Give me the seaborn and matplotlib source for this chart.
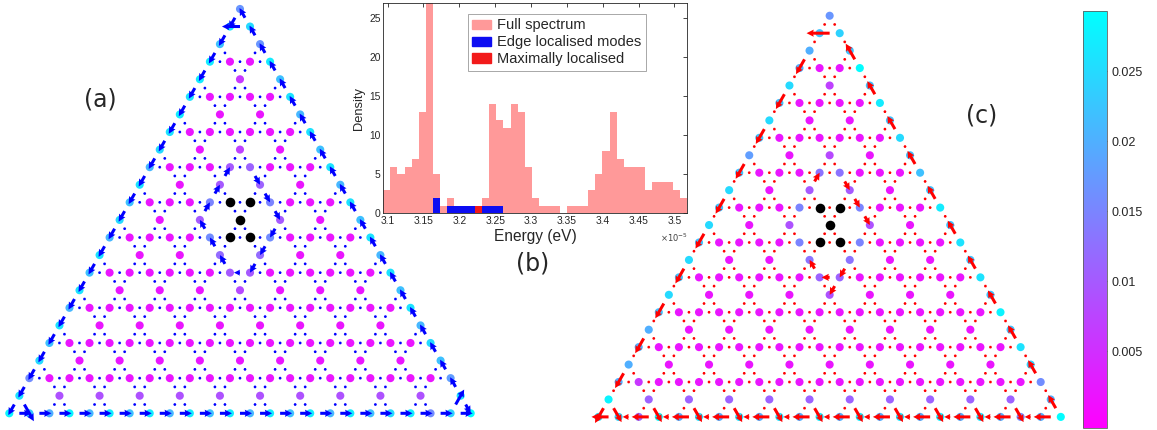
import numpy as np
import matplotlib
matplotlib.use("Agg")
import matplotlib.pyplot as plt
from matplotlib.patches import Patch
import seaborn as sns
import pandas as pd

sns.set_theme(style="white")
plt.rcParams['font.family'] = ['DejaVu Sans']

# ---------------- (b) histogram data (counts per bin, energy in 1e-5 eV) ----------------
BIN_START = 3.094
BIN_WIDTH = 0.00986
FULL_COUNTS = [3, 6, 5, 6, 7, 13, 30, 5, 1, 2, 1, 1, 1, 1, 2, 14, 12, 11, 14, 13, 6, 2,
               1, 1, 1, 0, 1, 1, 1, 3, 5, 8, 13, 7, 6, 6, 6, 3, 4, 4, 4, 3, 2]
EDGE_COUNTS = [0, 0, 0, 0, 0, 0, 0, 2, 0, 1, 1, 1, 1, 0, 1, 1, 1, 0, 0, 0, 0, 0,
               0, 0, 0, 0, 0, 0, 0, 0, 0, 0, 0, 0, 0, 0, 0, 0, 0, 0, 0, 0, 0]
MAX_COUNTS = [0, 0, 0, 0, 0, 0, 0, 0, 0, 0, 0, 0, 0, 1, 0, 0, 0, 0, 0, 0, 0, 0,
              0, 0, 0, 0, 0, 0, 0, 0, 0, 0, 0, 0, 0, 0, 0, 0, 0, 0, 0, 0, 0]
HIST_LABELS = ["Full spectrum", "Edge localised modes", "Maximally localised"]
X_TICKS = [3.1, 3.15, 3.2, 3.25, 3.3, 3.35, 3.4, 3.45, 3.5]
Y_TICKS = [0, 5, 10, 15, 20, 25]

# ---------------- (a)/(c) lattice field data ----------------
N_SIDE = 23
RING_SITES = [(4, 14), (5, 14), (6, 13), (7, 12), (8, 11), (8, 10), (8, 9), (8, 8),
              (7, 8), (6, 9), (5, 10), (4, 11), (4, 12), (4, 13)]
BLACK_SITES = [(5, 12), (6, 12), (6, 11), (6, 10), (7, 10)]

# site magnitudes: bottom edge (m=0..23), left edge (n=1..23), right edge (n=1..22)
A_BOTTOM = [0.028, 0.023, 0.020, 0.028, 0.021, 0.027, 0.022, 0.027, 0.021, 0.027, 0.022, 0.027,
            0.021, 0.027, 0.022, 0.027, 0.021, 0.027, 0.022, 0.025, 0.027, 0.016, 0.024, 0.029]
A_LEFT = [0.026, 0.016, 0.025, 0.022, 0.026, 0.021, 0.026, 0.022, 0.026, 0.021, 0.025, 0.022,
          0.026, 0.021, 0.025, 0.026, 0.027, 0.026, 0.027, 0.027, 0.022, 0.027, 0.017]
A_RIGHT = [0.026, 0.018, 0.022, 0.025, 0.021, 0.026, 0.022, 0.026, 0.021, 0.026, 0.022, 0.026,
           0.021, 0.026, 0.022, 0.026, 0.021, 0.026, 0.022, 0.027, 0.017, 0.025]
A_ROW1 = 0.009
A_BULK = 0.002
A_RING = [0.010, 0.011, 0.011, 0.015, 0.010, 0.016, 0.012, 0.010, 0.010, 0.012, 0.016, 0.010, 0.015, 0.010]
A_EXTRA = {(2, 19): 0.006, (4, 15): 0.007, (8, 7): 0.008}

C_BOTTOM = [0.027, 0.025, 0.012, 0.029, 0.020, 0.026, 0.020, 0.026, 0.020, 0.026, 0.020, 0.027,
            0.020, 0.027, 0.020, 0.026, 0.020, 0.027, 0.020, 0.026, 0.020, 0.016, 0.020, 0.029]
C_LEFT = [0.028, 0.020, 0.020, 0.020, 0.020, 0.022, 0.025, 0.022, 0.025, 0.022, 0.025, 0.022,
          0.025, 0.022, 0.018, 0.022, 0.025, 0.022, 0.025, 0.020, 0.020, 0.022, 0.017]
C_RIGHT = [0.020, 0.016, 0.024, 0.026, 0.022, 0.028, 0.022, 0.026, 0.022, 0.026, 0.022, 0.027,
           0.022, 0.022, 0.022, 0.025, 0.022, 0.027, 0.022, 0.029, 0.022, 0.024]
C_ROW1 = 0.011
C_BULK = 0.002
C_RING = [0.013, 0.013, 0.010, 0.015, 0.009, 0.015, 0.013, 0.011, 0.011, 0.013, 0.015, 0.009, 0.015, 0.010]
C_EXTRA = {(2, 19): 0.007, (4, 15): 0.008, (8, 7): 0.009, (1, 2): 0.006}

# arrow values on bonds (units of bond length; sign: toward larger m on the bottom edge,
# upward on the side edges, up-left on the (m+1,0)-(m,1) bonds, along ring order on the ring)
A_ARROW_BOTTOM = [0.6, 0.6, 0.6, 0.6, 0.6, 0.6, 0.6, 0.6, 0.6, 0.6, 0.6, 0.6,
                  0.6, 0.6, 0.6, 0.6, 0.6, 0.6, 0.6, 0.6, 0.6, 0.6, 0.6]
A_ARROW_LEFT = [-0.6, -0.6, -0.6, -0.6, -0.6, -0.6, -0.6, -0.6, -0.6, -0.6, -0.6, -0.6,
                -0.6, -0.6, -0.6, -0.6, -0.6, -0.6, -0.6, -0.6, -0.6, -0.6, -0.6]
A_ARROW_RIGHT = [-0.5, 0.55, 0.55, 0.55, 0.55, 0.55, 0.55, 0.55, 0.55, 0.55, 0.55, 0.55,
                 0.55, 0.55, 0.55, 0.55, 0.55, 0.55, 0.55, 0.55, 0.55, 0.55, 0.55]
A_ARROW_DIAG = [-0.95, 0.03, 0.03, 0.03, 0.03, 0.03, 0.03, 0.03, 0.03, 0.03, 0.03]
A_ARROW_RING = [0.05, 0.5, 0.5, 0.5, 0.5, 0.5, 0.5, 0.3, 0.5, 0.5, 0.5, 0.5, 0.5, 0.5]
A_ARROW_SPECIAL = {((22, 0), (22, 1)): 0.85, ((0, 22), (1, 22)): -0.9}

C_ARROW_BOTTOM = [-0.85, -0.3, -0.85, -0.3, -0.85, -0.3, -0.85, -0.3, -0.85, -0.3, -0.85, -0.3,
                  -0.85, -0.3, -0.85, -0.3, -0.85, -0.3, -0.85, -0.3, -0.85, -0.3, -0.85]
C_ARROW_LEFT = [-0.85, -0.06, -0.85, -0.06, -0.85, -0.06, -0.85, -0.06, -0.85, -0.06, -0.85, -0.06,
                -0.85, -0.06, -0.85, -0.06, -0.85, -0.06, -0.85, -0.06, -0.85, -0.06, -0.06]
C_ARROW_RIGHT = [0.75, 0.06, 0.75, 0.06, 0.75, 0.06, 0.75, 0.06, 0.75, 0.06, 0.75, 0.06,
                 0.75, 0.06, 0.75, 0.06, 0.75, 0.06, 0.75, 0.06, 0.9, 0.06, 0.06]
C_ARROW_DIAG = [-0.8, -0.8, -0.8, -0.8, -0.8, -0.8, -0.8, -0.8, -0.8, -0.8, -0.8]
C_ARROW_RING = [0.05, 0.5, 0.5, 0.5, 0.05, 0.05, 0.5, 0.4, 0.5, 0.05, 0.05, 0.05, 0.05, 0.5]
C_ARROW_SPECIAL = {((0, 22), (1, 22)): -1.15, ((8, 7), (8, 8)): -0.5}

BULK_ARROW = 0.02

CB_TICKS = [0.005, 0.01, 0.015, 0.02, 0.025]
V_MIN, V_MAX = -0.00045, 0.0293

W, H = 1157, 430
fig = plt.figure(figsize=(W / 100, H / 100), dpi=100)


def px_axes(left, top, right, bottom):
    return fig.add_axes([left / W, 1 - bottom / H, (right - left) / W, (bottom - top) / H])


SQ3 = np.sqrt(3) / 2


def lattice():
    sites = [(m, n) for n in range(N_SIDE + 1) for m in range(N_SIDE + 1 - n)
             if not (m % 2 == 1 and n % 2 == 1)]
    sset = set(sites)
    bonds = []
    for (m, n) in sites:
        for dm, dn in [(1, 0), (0, 1), (-1, 1)]:
            if (m + dm, n + dn) in sset:
                bonds.append(((m, n), (m + dm, n + dn)))
    return sites, bonds


def xy(s):
    return s[0] + s[1] / 2.0, s[1] * SQ3


def site_value(s, P):
    m, n = s
    if n == 0:
        return P["bottom"][m]
    if m == 0:
        return P["left"][n - 1]
    if m + n == N_SIDE:
        return P["right"][n - 1]
    if s in RING_SITES:
        return P["ring"][RING_SITES.index(s)]
    if s in P["extra"]:
        return P["extra"][s]
    if n == 1:
        return P["row1"]
    return P["bulk"]


def bond_length(b, P):
    s1, s2 = b
    (m1, n1), (m2, n2) = b
    if b in P["a_special"]:
        return P["a_special"][b]
    if n1 == 0 and n2 == 0:
        return P["a_bottom"][m1]
    if m1 == 0 and m2 == 0:
        return P["a_left"][n1]
    if m1 + n1 == N_SIDE and m2 + n2 == N_SIDE:
        return P["a_right"][n1]
    if n1 == 0 and n2 == 1 and m2 == m1 - 1 and m2 % 2 == 0:
        return P["a_diag"][m2 // 2]
    if s1 in RING_SITES and s2 in RING_SITES:
        k = len(RING_SITES)
        for i in range(k):
            if RING_SITES[i] == s1 and RING_SITES[(i + 1) % k] == s2:
                return P["a_ring"][i]
            if RING_SITES[i] == s2 and RING_SITES[(i + 1) % k] == s1:
                return -P["a_ring"][i]
    return BULK_ARROW


def draw_panel(ax, P, acolor):
    sites, bonds = lattice()
    rows = []
    for s in sites:
        x, y = xy(s)
        rows.append({"x": x, "y": y, "v": site_value(s, P), "black": s in BLACK_SITES})
    df = pd.DataFrame(rows)
    sns.scatterplot(data=df[~df.black], x="x", y="y", hue="v", palette="cool_r",
                    hue_norm=(V_MIN, V_MAX), s=34, linewidth=0, legend=False, ax=ax, zorder=2)
    sns.scatterplot(data=df[df.black], x="x", y="y", color="black", s=48, linewidth=0,
                    legend=False, ax=ax, zorder=2)
    big, small = [], []
    for b in bonds:
        x1, y1 = xy(b[0])
        x2, y2 = xy(b[1])
        L = bond_length(b, P)
        rec = ((x1 + x2) / 2, (y1 + y2) / 2, (x2 - x1) * L, (y2 - y1) * L)
        (big if abs(L) >= 0.2 else small).append(rec)
    bq = np.array(big)
    sq = np.array(small)
    ax.quiver(sq[:, 0], sq[:, 1], sq[:, 2], sq[:, 3], angles="xy", scale_units="xy", scale=1,
              units="xy", width=0.1, minlength=1.5, color=acolor, zorder=3)
    ax.quiver(bq[:, 0], bq[:, 1], bq[:, 2], bq[:, 3], angles="xy", scale_units="xy", scale=1,
              units="xy", width=0.15, headwidth=2.4, headlength=2.4, headaxislength=2.2,
              minlength=0.5, color=acolor, zorder=3)
    ax.set_axis_off()


def tri_axes(x0, y0, sx, sy):
    xl, yl = (-1.2, 24.2), (-1.2, 21.0)
    ax = px_axes(x0 + sx * xl[0], y0 - sy * yl[1], x0 + sx * xl[1], y0 - sy * yl[0])
    ax.set_xlim(*xl)
    ax.set_ylim(*yl)
    return ax


PANEL_A = dict(bottom=A_BOTTOM, left=A_LEFT, right=A_RIGHT, row1=A_ROW1, bulk=A_BULK,
               ring=A_RING, extra=A_EXTRA, a_bottom=A_ARROW_BOTTOM, a_left=A_ARROW_LEFT,
               a_right=A_ARROW_RIGHT, a_diag=A_ARROW_DIAG, a_ring=A_ARROW_RING,
               a_special=A_ARROW_SPECIAL)
PANEL_C = dict(bottom=C_BOTTOM, left=C_LEFT, right=C_RIGHT, row1=C_ROW1, bulk=C_BULK,
               ring=C_RING, extra=C_EXTRA, a_bottom=C_ARROW_BOTTOM, a_left=C_ARROW_LEFT,
               a_right=C_ARROW_RIGHT, a_diag=C_ARROW_DIAG, a_ring=C_ARROW_RING,
               a_special=C_ARROW_SPECIAL)

axa = tri_axes(9.3, 413.3, 20.06, 20.30)
draw_panel(axa, PANEL_A, "#0000ff")
axc = tri_axes(598.5, 416.9, 20.1, 20.14)
draw_panel(axc, PANEL_C, "#ff0000")

fig.text(100 / W, 1 - 99 / H, "(a)", fontsize=17, ha="center", va="center")
fig.text(533 / W, 1 - 263 / H, "(b)", fontsize=17, ha="center", va="center")
fig.text(982 / W, 1 - 115 / H, "(c)", fontsize=17, ha="center", va="center")

# ---------------- histogram (b) ----------------
axh = px_axes(383.3, 2.7, 687.3, 213.3)
edges = [float(e) for e in BIN_START + BIN_WIDTH * np.arange(len(FULL_COUNTS) + 1)]
centers = [(edges[i] + edges[i + 1]) / 2 for i in range(len(FULL_COUNTS))]
hist_df = pd.DataFrame({"energy": centers, "full": FULL_COUNTS, "edge": EDGE_COUNTS,
                        "maxloc": MAX_COUNTS})
HIST_COLORS = [(1.0, 0.6, 0.6), (0.05, 0.05, 0.95), (0.95, 0.1, 0.1)]
for col_name, colr in zip(["full", "edge", "maxloc"], HIST_COLORS):
    sns.histplot(data=hist_df, x="energy", weights=col_name, bins=edges, color=colr, alpha=1,
                 edgecolor="none", linewidth=0, ax=axh)
axh.set_xlim(edges[0], edges[-1])
axh.set_ylim(0, 27)
axh.set_xticks(X_TICKS)
axh.set_xticklabels([f"{t:g}" for t in X_TICKS])
axh.set_yticks(Y_TICKS)
hfont = ['Liberation Sans', 'DejaVu Sans']
for lab in axh.get_xticklabels() + axh.get_yticklabels():
    lab.set_family(hfont)
    lab.set_fontsize(7.4)
axh.tick_params(direction="in", top=True, right=True, length=3, width=0.6, pad=2,
                colors="#262626")
axh.set_xlabel("Energy (eV)", fontsize=11.2, family=hfont, labelpad=2)
axh.set_ylabel("Density", fontsize=9.3, family=hfont, labelpad=3)
for sp in axh.spines.values():
    sp.set_color("#262626")
    sp.set_linewidth(0.6)
axh.text(0.955, -0.115, r"$\times10^{-5}$", transform=axh.transAxes, fontsize=6,
         ha="center", va="center", color="#404040")
handles = [Patch(color=c) for c in HIST_COLORS]
leg = axh.legend(handles, HIST_LABELS, loc="upper left", bbox_to_anchor=(0.279, 0.946),
                 borderaxespad=0, frameon=True, fancybox=False, handlelength=1.3,
                 handleheight=0.62, handletextpad=0.4, labelspacing=0.2, borderpad=0.3,
                 prop={"family": hfont, "size": 10.5})
leg.get_frame().set_edgecolor("#808080")
leg.get_frame().set_linewidth(0.6)

# ---------------- colorbar ----------------
cax = px_axes(1083.3, 11, 1107.3, 427.7)
sm = matplotlib.cm.ScalarMappable(norm=matplotlib.colors.Normalize(V_MIN, V_MAX), cmap="cool_r")
cb = fig.colorbar(sm, cax=cax, ticks=CB_TICKS)
cb.ax.set_yticklabels([f"{t:g}" for t in CB_TICKS])
cb.ax.tick_params(direction="in", length=4, width=0.6, colors="#262626", labelsize=9, pad=3)
for lab in cb.ax.get_yticklabels():
    lab.set_family(hfont)
cb.outline.set_edgecolor("#606060")
cb.outline.set_linewidth(0.6)

fig.savefig("out.png", dpi=100)
